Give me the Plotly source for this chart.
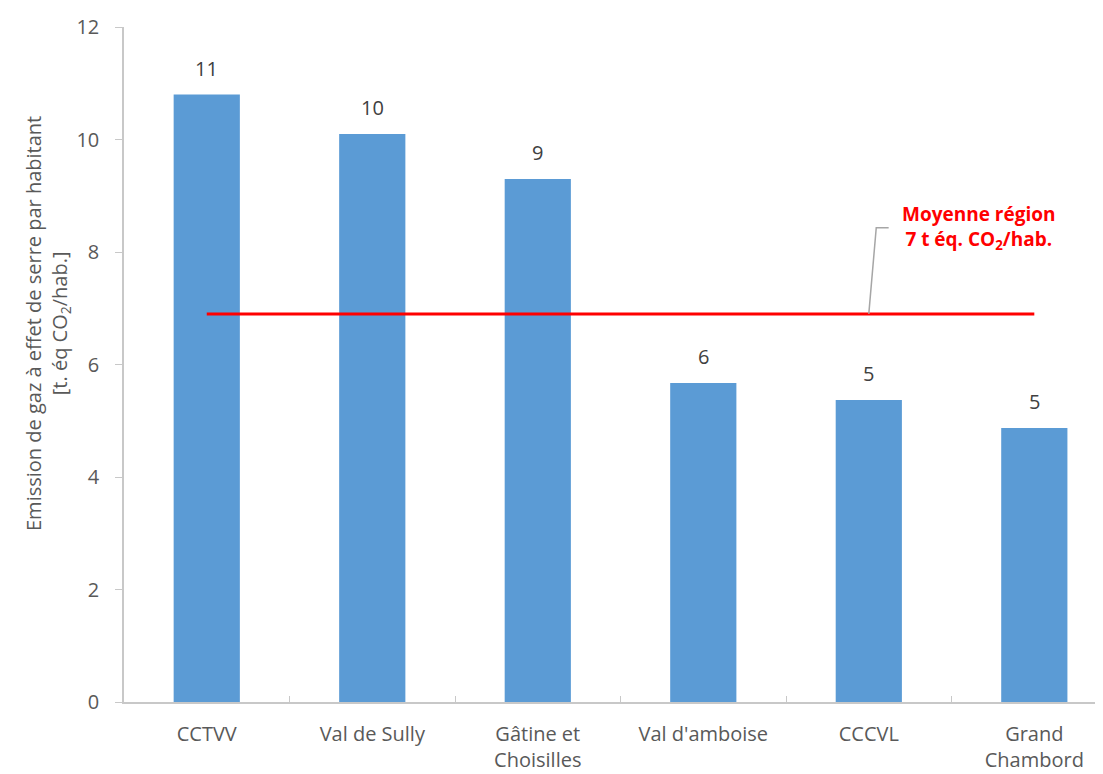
import plotly.graph_objects as go

# emissions par habitant (t eq CO2/hab.)
territoires = ["CCTVV", "Val de Sully", "Gâtine et<br>Choisilles", "Val d'amboise",
               "CCCVL", "Grand<br>Chambord"]
emissions = [10.8, 10.1, 9.3, 5.67, 5.37, 4.87]
etiquettes = ["11", "10", "9", "6", "5", "5"]
moyenne_region = 6.9

font_name = "Open Sans"
gris_texte = "#595959"
gris_axe = "#C8C8C8"

fig = go.Figure()
fig.add_trace(go.Bar(
    x=territoires, y=emissions, width=0.4,
    marker=dict(color="#5B9BD5", line=dict(width=0)),
    hoverinfo="x+y",
))
fig.add_trace(go.Scatter(
    x=territoires, y=[moyenne_region] * len(territoires),
    mode="lines", line=dict(color="#FF0000", width=3),
    hoverinfo="y",
))

# valeurs au-dessus des barres
for t, v, e in zip(territoires, emissions, etiquettes):
    fig.add_annotation(x=t, y=v, text=e, showarrow=False, yanchor="bottom",
                       yshift=11, font=dict(family=font_name, size=20, color="#404040"))

# legende de la moyenne + trait de rappel
fig.add_shape(type="path", xref="x", yref="y",
              path=f"M 4,{moyenne_region} L 4.045,8.43 L 4.12,8.43",
              line=dict(color="#A6A6A6", width=1.5))
fig.add_annotation(x=4.66, y=8.43, xref="x", yref="y", showarrow=False,
                   text="<b>Moyenne région<br>7 t éq. CO<sub>2</sub>/hab.</b>",
                   font=dict(family=font_name, size=19, color="#FF0000"))

# titre de l'axe y (un peu au-dessus du centre, comme l'original)
fig.add_annotation(x=0, y=0.56, xref="paper", yref="paper", xshift=-76,
                   xanchor="center", yanchor="middle", textangle=-90, showarrow=False,
                   text="Emission de gaz à effet de serre par habitant<br>[t. éq CO<sub>2</sub>/hab.]",
                   font=dict(family=font_name, size=20, color=gris_texte))

# la page html ajoute 8 px de marge : figure un peu reduite
fig.update_layout(
    width=1095, height=766,
    margin=dict(l=116, r=0, t=19, b=72, autoexpand=False),
    plot_bgcolor="white", paper_bgcolor="white",
    showlegend=False,
    font=dict(family=font_name, size=20, color=gris_texte),
)
fig.update_xaxes(
    range=[-0.5, 5.415],
    showline=True, linecolor=gris_axe, linewidth=1.5,
    ticks="inside", tickson="boundaries", ticklen=6, tickcolor=gris_axe,
    showgrid=False, ticklabelstandoff=13,
    tickfont=dict(size=20, color=gris_texte),
)
fig.update_yaxes(
    range=[0, 12], dtick=2,
    showline=True, linecolor=gris_axe, linewidth=1.5,
    ticks="outside", ticklen=7, tickcolor=gris_axe,
    showgrid=False, zeroline=False,
    ticklabelstandoff=12,
    tickfont=dict(size=20, color=gris_texte),
)

fig.write_html("out.html")
